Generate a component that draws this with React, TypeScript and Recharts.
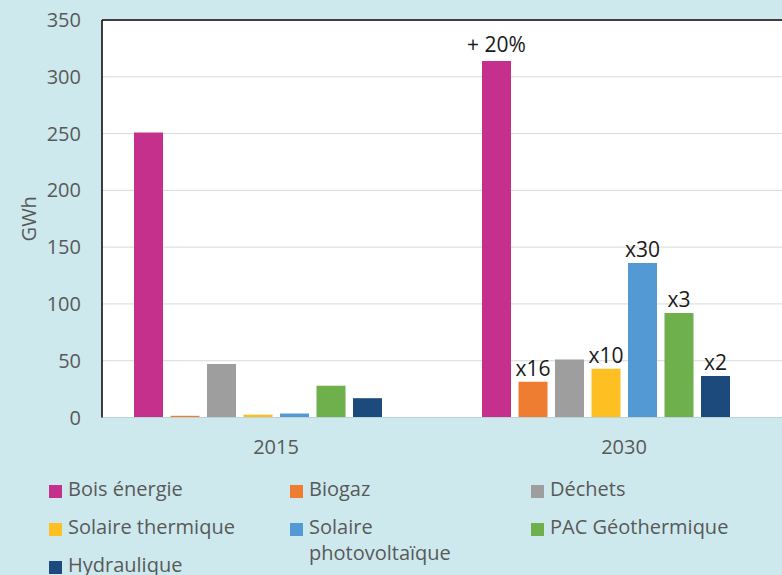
import React from 'react';
import { BarChart, Bar, XAxis, YAxis, CartesianGrid, Legend, LabelList, ReferenceLine } from 'recharts';

const FONT = '"Open Sans", "DejaVu Sans", sans-serif';

const years = ['2015', '2030'];
const boisEnergie = [251, 314];
const biogaz = [1.5, 31.5];
const dechets = [47, 51];
const solaireThermique = [2.5, 43];
const solairePV = [3.5, 136];
const pacGeothermique = [28, 92];
const hydraulique = [17, 36.5];

const boisNotes = [null, '+\u00a020%'];
const biogazNotes = [null, 'x16'];
const dechetsNotes = [null, null];
const solaireThermiqueNotes = [null, 'x10'];
const solairePVNotes = [null, 'x30'];
const pacNotes = [null, 'x3'];
const hydrauliqueNotes = [null, 'x2'];

const yTicks = [0, 50, 100, 150, 200, 250, 300, 350];

const series = [
  { key: 'bois', name: 'Bois énergie', color: '#c5308c', values: boisEnergie, notes: boisNotes, noteOffset: 9 },
  { key: 'biogaz', name: 'Biogaz', color: '#ee7d31', values: biogaz, notes: biogazNotes, noteOffset: 6 },
  { key: 'dechets', name: 'Déchets', color: '#9e9e9e', values: dechets, notes: dechetsNotes, noteOffset: 6 },
  { key: 'solth', name: 'Solaire thermique', color: '#fdbf22', values: solaireThermique, notes: solaireThermiqueNotes, noteOffset: 6 },
  { key: 'pv', name: 'Solaire photovoltaïque', color: '#5399d4', values: solairePV, notes: solairePVNotes, noteOffset: 6 },
  { key: 'pac', name: 'PAC Géothermique', color: '#6db04c', values: pacGeothermique, notes: pacNotes, noteOffset: 6 },
  { key: 'hydro', name: 'Hydraulique', color: '#1d4a7c', values: hydraulique, notes: hydrauliqueNotes, noteOffset: 6 },
];

const seriesNames = series.map((s) => s.name);

const data = years.map((year, i) => {
  const row: any = { year };
  series.forEach((s) => {
    row[s.key] = s.values[i];
    row[s.key + 'Note'] = s.notes[i];
  });
  return row;
});

const renderLegend = (props: any) => {
  const items = (props.payload || [])
    .filter((p: any) => seriesNames.includes(p.value))
    .slice()
    .sort((a: any, b: any) => seriesNames.indexOf(a.value) - seriesNames.indexOf(b.value));
  return (
    <div
      style={{
        display: 'grid',
        gridTemplateColumns: 'repeat(3, 241px)',
        gridAutoRows: '38px',
        paddingLeft: 49,
        paddingTop: 1,
        height: 100,
        boxSizing: 'border-box',
        fontFamily: FONT,
        fontSize: 20,
        lineHeight: '26px',
        color: '#595959',
        textAlign: 'left',
      }}
    >
      {items.map((it: any) => (
        <div key={it.value} style={{ display: 'flex', alignItems: 'flex-start' }}>
          <span
            style={{
              width: 13,
              height: 13,
              background: it.color,
              marginTop: 9,
              marginRight: 6,
              flex: 'none',
              display: 'inline-block',
            }}
          />
          <span style={{ maxWidth: 190 }}>{it.value}</span>
        </div>
      ))}
    </div>
  );
};

const renderYLabel = (p: any) => {
  const vb = p.viewBox || { x: 0, y: 0, width: 0, height: 0 };
  const cx = vb.x + 28;
  const cy = vb.y + vb.height / 2;
  return (
    <text
      x={cx}
      y={cy}
      transform={`rotate(-90, ${cx}, ${cy})`}
      textAnchor="middle"
      dominantBaseline="central"
      fill="#595959"
      fontSize={20}
      fontFamily={FONT}
    >
      GWh
    </text>
  );
};

export default function App() {
  return (
    <div
      style={{
        position: 'fixed',
        left: 0,
        top: 0,
        width: 782,
        height: 575,
        overflow: 'hidden',
        background: '#cde9ed',
      }}
    >
      <BarChart
        width={830}
        height={575}
        data={data}
        margin={{ top: 20, right: 32, left: 0, bottom: 0 }}
        barSize={29}
        barGap={7.5}
      >
        <CartesianGrid vertical={false} stroke="#d9d9d9" fill="#ffffff" />
        <XAxis
          dataKey="year"
          height={57.5}
          tickLine={false}
          tickSize={0}
          tickMargin={22}
          axisLine={{ stroke: '#b9d3d8' }}
          tick={{ fill: '#595959', fontSize: 20, fontFamily: FONT }}
        />
        <YAxis
          width={102}
          domain={[0, 350]}
          ticks={yTicks}
          interval={0}
          tickLine={false}
          tickSize={0}
          tickMargin={21}
          axisLine={{ stroke: '#000000', strokeWidth: 1.5 }}
          tick={{ fill: '#595959', fontSize: 20, fontFamily: FONT }}
          label={{ content: renderYLabel }}
        />
        <ReferenceLine y={350} stroke="#404040" strokeWidth={2} />
        <Legend
          verticalAlign="bottom"
          content={renderLegend}
          itemSorter={null as any}
          wrapperStyle={{ left: 0, width: 782 }}
        />
        {series.map((s) => (
          <Bar key={s.key} dataKey={s.key} name={s.name} fill={s.color} isAnimationActive={false}>
            <LabelList
              dataKey={s.key + 'Note'}
              position="top"
              offset={s.noteOffset}
              fill="#1a1a1a"
              fontSize={21}
              fontFamily={FONT}
            />
          </Bar>
        ))}
        <Bar dataKey="spacer" name="spacer" legendType="none" fill="transparent" isAnimationActive={false} />
      </BarChart>
    </div>
  );
}
